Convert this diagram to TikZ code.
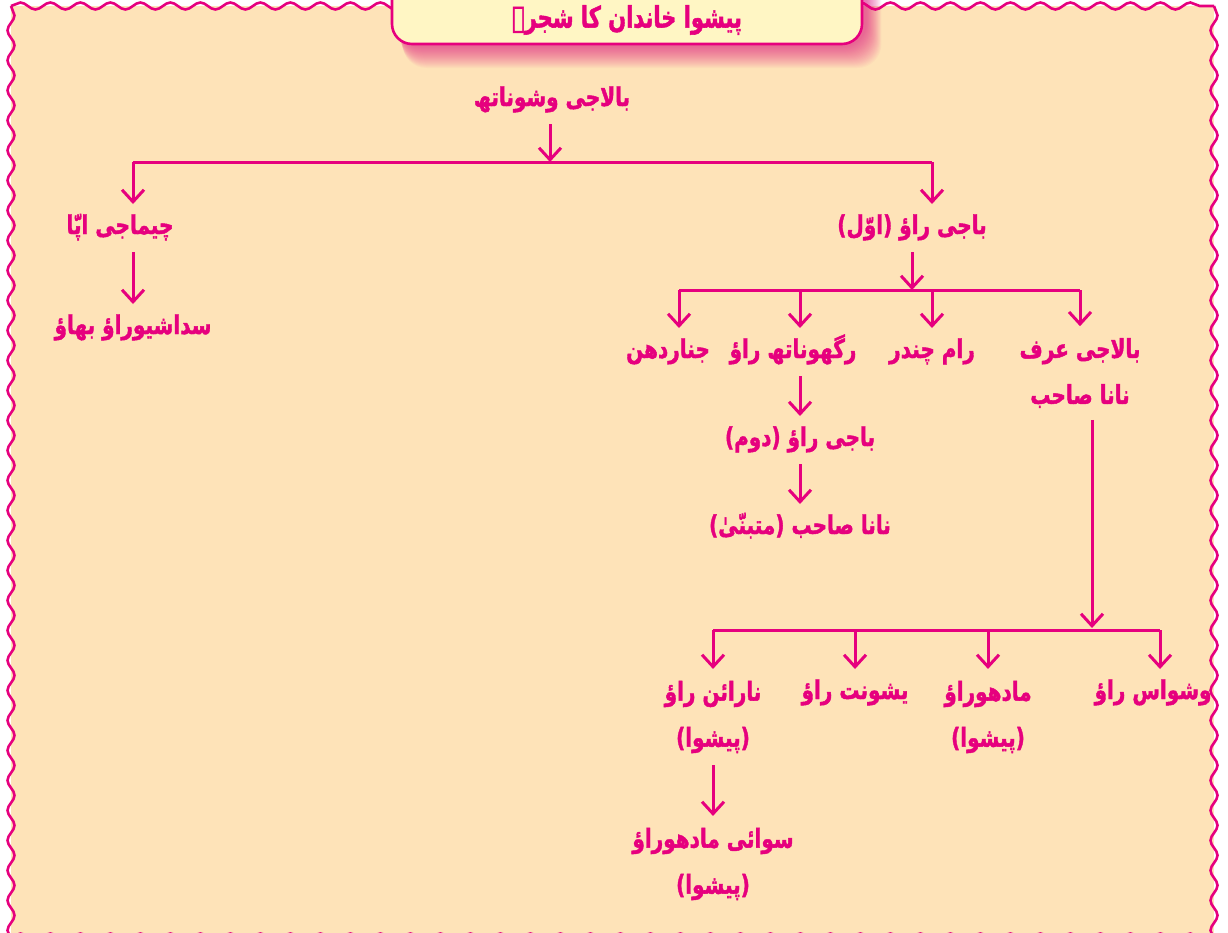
\documentclass[tikz,border=0pt]{standalone}
\usepackage{graphicx}
\usepackage{fontspec}
\newfontfamily\arabicfont[Script=Arabic, BoldFeatures={FakeBold=1.8}]{DejaVu Sans}
\TeXXeTstate=1
\usetikzlibrary{decorations.pathmorphing,arrows.meta}
\definecolor{mag}{HTML}{E6007E}
\definecolor{bgc}{HTML}{FEE3B8}
\definecolor{titlebg}{HTML}{FFF6C4}
\newcommand\ur[1]{\scalebox{1}[1.3]{\beginR #1\endR}}
\newcommand\urt[1]{\scalebox{1}[1.4]{\beginR #1\endR}}
\begin{document}
\begin{tikzpicture}[x=1pt,y=-1pt,
  lbl/.style={font=\arabicfont\bfseries\fontsize{20}{46}\selectfont, text=mag, inner sep=0pt, outer ysep=12pt, align=center},
  one/.style={lbl, text height=18pt, text depth=6pt},
  arr/.style={mag, line width=3pt, -{Straight Barb[length=12pt,width=22pt]}},
  ln/.style={mag, line width=3pt},
  wave/.style={mag, line width=2.6pt, decorate, decoration={snake, segment length=30pt, amplitude=3.5pt}},
]
\useasboundingbox (0,0) rectangle (1228,932);
\fill[white] (0,0) rectangle (1228,932);
\fill[bgc] (11,6) rectangle (1214,940);
\draw[wave] (11,6) -- (1214,6);
\draw[wave] (1214,6) -- (1214,940);
\draw[wave] (11,937) -- (1214,937);
\draw[wave] (11,6) -- (11,940);
% title shadow (soft)
\foreach \o in {1,...,22}{
  \fill[mag, opacity=0.03, rounded corners=24pt] (396+\o*0.3,-25) rectangle (866+\o*0.7,46+\o);
}
\draw[mag, line width=2.6pt, fill=titlebg, rounded corners=20pt] (392,-25) rectangle (862,44);
\node[lbl, font=\arabicfont\bfseries\fontsize{21}{28}\selectfont] (title) at (627,20) {\urt{پیشوا خاندان کا شجرہ}};

% nodes
\node[one] (r) at (552,100) {\ur{بالاجی وشوناتھ}};
\node[one] (chim) at (120,228) {\ur{چیماجی اپّا}};
\node[one] (sada) at (133,328) {\ur{سداشیوراؤ بھاؤ}};
\node[one] (b1) at (912,228) {\ur{باجی راؤ (اوّل)}};
\node[one] (jan) at (668,352) {\ur{جناردھن}};
\node[one] (rag) at (793,352) {\ur{رگھوناتھ راؤ}};
\node[one] (ram) at (932,352) {\ur{رام چندر}};
\node[lbl] (bal) at (1080,373) {\ur{بالاجی عرف}\\\ur{نانا صاحب}};
\node[one] (b2) at (800,440) {\ur{باجی راؤ (دوم)}};
\node[one] (nana2) at (800,528) {\ur{نانا صاحب (متبنّیٰ)}};
\node[lbl] (nar) at (713,717) {\ur{نارائن راؤ}\\\ur{(پیشوا)}};
\node[one] (yash) at (855,693) {\ur{یشونت راؤ}};
\node[lbl] (madh) at (988,717) {\ur{مادھوراؤ}\\\ur{(پیشوا)}};
\node[one] (vish) at (1153,693) {\ur{وشواس راؤ}};
\node[lbl] (sawai) at (713,864) {\ur{سوائی مادھوراؤ}\\\ur{(پیشوا)}};

% level 1
\coordinate (j1) at (550,162);
\coordinate (h1L) at (133,162);
\coordinate (h1R) at (932,162);
\draw[arr] (r.south -| j1) -- (j1);
\draw[ln] (h1L) -- (h1R);
\draw[arr] (h1L) -- (h1L |- chim.north);
\draw[arr] (h1R) -- (h1R |- b1.north);
\draw[arr] (chim.south -| h1L) -- (sada.north -| h1L);

% level 2
\coordinate (j2) at (912,290);
\coordinate (h2L) at (679,290);
\coordinate (h2a) at (800,290);
\coordinate (h2b) at (932,290);
\coordinate (h2R) at (1080,290);
\draw[arr] (b1.south -| j2) -- (j2);
\draw[ln] (h2L) -- (h2R);
\draw[arr] (h2L) -- (h2L |- jan.north);
\draw[arr] (h2a) -- (h2a |- rag.north);
\draw[arr] (h2b) -- (h2b |- ram.north);
\draw[arr] (h2R) -- (h2R |- bal.north);
\draw[arr] (rag.south -| h2a) -- (b2.north -| h2a);
\draw[arr] (b2.south -| h2a) -- (nana2.north -| h2a);

% level 3
\coordinate (j3) at (1092,628);
\coordinate (h3L) at (713,630);
\coordinate (h3a) at (855,630);
\coordinate (h3b) at (988,630);
\coordinate (h3R) at (1160,630);
\draw[arr] (bal.south -| j3) -- (j3);
\draw[ln] (h3L) -- (h3R);
\draw[arr] (h3L) -- (h3L |- nar.north);
\draw[arr] (h3a) -- (h3a |- yash.north);
\draw[arr] (h3b) -- (h3b |- madh.north);
\draw[arr] (h3R) -- (h3R |- vish.north);
\draw[arr] (nar.south -| h3L) -- (sawai.north -| h3L);
\end{tikzpicture}
\end{document}
